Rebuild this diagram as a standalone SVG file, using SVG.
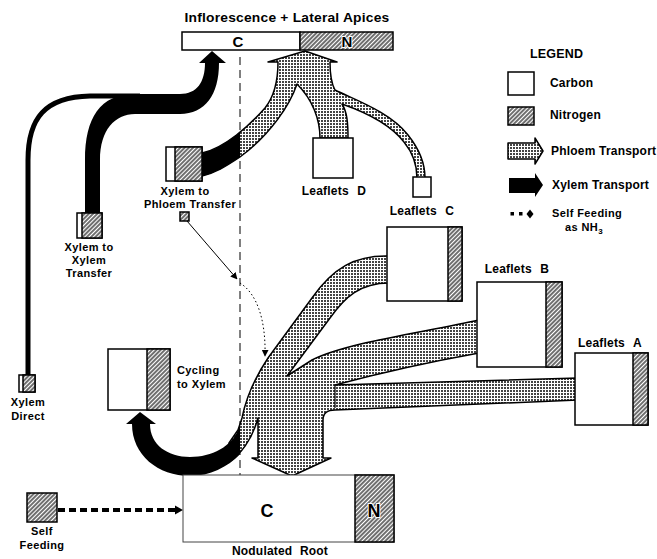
<svg xmlns="http://www.w3.org/2000/svg" width="657" height="559" viewBox="0 0 657 559">
<style>
.t{font-family:"Liberation Sans",Arial,sans-serif;font-weight:bold;font-size:12px;letter-spacing:0.2px;fill:#000}
.m{text-anchor:middle}
.st{font-size:11px;letter-spacing:0.4px}
.big{font-size:15px}
.huge{font-size:18px}
.sub{font-size:8px}
.leg{font-size:12.5px}
.nl{stroke:#fff;stroke-width:2;paint-order:stroke}
.box{fill:#fff;stroke:#000;stroke-width:1.5}
.hat{fill:url(#hatch);stroke:#000;stroke-width:1.5}
.phl{fill:url(#stip);stroke:#000;stroke-width:1.5;stroke-linejoin:round}
.xyl{fill:#000}
.ln{fill:none;stroke:#000;stroke-width:1}
</style>
<defs>
<pattern id="stip" width="3" height="3" patternUnits="userSpaceOnUse">
<rect width="3" height="3" fill="#fff"/>
<rect width="2" height="2" fill="#444"/>
</pattern>
<pattern id="hatch" width="3" height="3" patternUnits="userSpaceOnUse" patternTransform="rotate(45)">
<rect width="3" height="3" fill="#fff"/>
<line x1="1" y1="0" x2="1" y2="3" stroke="#222" stroke-width="1.3"/>
</pattern>
<clipPath id="leftOf240"><rect x="0" y="0" width="240" height="559"/></clipPath>
<marker id="ah" viewBox="0 0 10 10" refX="9" refY="5" markerWidth="7" markerHeight="7" orient="auto"><path d="M0 0 L10 5 L0 10 z" fill="#000"/></marker>
</defs>
<rect width="657" height="559" fill="#fff"/>

<g id="connectors">
<line x1="240" y1="57" x2="240" y2="475" stroke="#000" stroke-width="1" stroke-dasharray="8 5"/>
<!-- top phloem union -->
<path class="phl" d="M305 51 L337 62 L330 62 C330 75 331 83 335 90 C355 100 390 112 408 135 C420 150 425 163 425 178 L417 178 C417 165 413 153 404 142 C390 124 365 112 342 104 C347 112 348 122 348 138 L320 138 C320 120 313 100 297 84 C290 105 270 135 240 157 C225 167 215 173 202 176 L202 153 C225 148 250 125 265 108 C273 98 278 85 278 62 L268 62 Z"/>
<!-- xylem part of xylem-to-phloem transfer -->
<path class="xyl" clip-path="url(#leftOf240)" d="M202 153 C225 148 250 125 265 108 L260 160 L240 157 C225 167 215 173 202 176 Z"/>
<!-- xylem thick band -->
<path class="xyl" d="M85 213 L85 160 C85 118 100 94 135 94 L180 94 C197 94 205 82 205 63 L199 63 L212 51 L226 63 L219 63 C219 95 205 114 180 114 L135 114 C115 114 100 130 100 160 L100 213 Z"/>
<!-- xylem direct -->
<path d="M28 375 L28 160 C28 118 45 97 90 96 L140 96" fill="none" stroke="#000" stroke-width="5"/>
<!-- bottom phloem union -->
<path class="phl" d="M292 476 L331 458 L323 458 L323 420 Q323 410 335 410 L578 400 L578 378 L335 385 C380 373 440 360 479 353 L479 320 C420 333 345 343 312 360 L287 376 L330 318 C345 297 360 283 389 283 L389 256 C355 255 333 268 312 298 L268 358 C256 376 246 398 242 418 L238 430 L229 443 L229 462 C240 455 252 440 258 418 L258 458 L252 458 Z"/>
<line x1="335" y1="385" x2="335" y2="408" stroke="#000" stroke-width="1.2"/>
<!-- cycling black band -->
<path class="xyl" clip-path="url(#leftOf240)" d="M126 424 L140 412 L156 424 L150 424 C150 445 168 457 190 457 C212 457 232 446 238 430 L250 400 L262 420 C250 450 225 476 190 476 C158 476 132 455 132 424 Z"/>
<!-- xylem-to-phloem small pointer -->
<line class="ln" x1="187" y1="221" x2="237" y2="279" marker-end="url(#ah)"/>
<path class="ln" d="M240 283 C256 293 266 318 265 356" stroke-dasharray="1.5 2.5" marker-end="url(#ah)"/>
<!-- self feeding -->
<line x1="58" y1="510" x2="176" y2="510" stroke="#000" stroke-width="4" stroke-dasharray="7 4"/>
<polygon points="175,505.5 183,510 175,514.5" fill="#000"/>
</g>

<text class="t m" x="287" y="22" style="font-size:13px" textLength="205" lengthAdjust="spacingAndGlyphs">Inflorescence + Lateral Apices</text>

<g id="inflorescence">
<rect class="box" x="182" y="32" width="118" height="18"/>
<rect class="hat" x="300" y="32" width="93" height="18"/>
<text class="t m big" x="238" y="47">C</text>
<text class="t m big nl" x="347" y="47">N</text>
</g>

<g id="legend">
<text class="t leg" x="530" y="58">LEGEND</text>
<rect class="box" x="508" y="72" width="26" height="23"/>
<text class="t" x="550" y="87">Carbon</text>
<rect class="hat" x="508" y="107" width="26" height="18"/>
<text class="t" x="550" y="119">Nitrogen</text>
<polygon class="phl" points="508,143 535,143 535,138 543,151 535,164 535,159 508,159"/>
<text class="t" x="551" y="155">Phloem Transport</text>
<polygon class="xyl" points="509,178 535,178 535,173 543,185 535,197 535,193 509,193"/>
<text class="t" x="552" y="189">Xylem Transport</text>
<rect x="510.5" y="212" width="3.5" height="3.5" fill="#000"/>
<rect x="519" y="212" width="3.5" height="3.5" fill="#000"/>
<polygon points="530,209.5 533.5,214 530,218.5 526.5,214" fill="#000"/>
<text class="t st" x="552" y="217">Self Feeding</text>
<text class="t st" x="565" y="231">as NH<tspan class="sub" dy="3">3</tspan></text>
</g>

<g id="xylem-to-phloem">
<rect class="box" x="166" y="147" width="36" height="34"/>
<rect class="hat" x="175" y="147" width="27" height="34"/>
<text class="t m st" x="185" y="195">Xylem to</text>
<text class="t m st" x="190" y="208">Phloem Transfer</text>
<rect class="hat" x="180" y="212" width="9" height="9" stroke-width="1"/>
</g>

<g id="xylem-to-xylem">
<rect class="box" x="77" y="213" width="25" height="25"/>
<rect class="hat" x="82" y="213" width="20" height="25"/>
<text class="t m st" x="89" y="251">Xylem to</text>
<text class="t m st" x="89" y="264">Xylem</text>
<text class="t m st" x="89" y="277">Transfer</text>
</g>

<g id="xylem-direct">
<rect class="box" x="19" y="375" width="16" height="17"/>
<rect class="hat" x="23" y="375" width="12" height="17"/>
<text class="t m st" x="28" y="406">Xylem</text>
<text class="t m st" x="28" y="420">Direct</text>
</g>

<g id="leaflets-d">
<rect class="box" x="313" y="138" width="40" height="40"/>
<text class="t m" x="334" y="195" word-spacing="5">Leaflets D</text>
</g>

<g id="leaflets-small">
<rect class="box" x="413" y="177" width="18" height="20"/>
</g>

<g id="leaflets-c">
<rect class="box" x="387" y="227" width="75" height="74"/>
<rect class="hat" x="448" y="227" width="14" height="74"/>
<text class="t m" x="422" y="215" word-spacing="5">Leaflets C</text>
</g>

<g id="leaflets-b">
<rect class="box" x="477" y="282" width="85" height="85"/>
<rect class="hat" x="546" y="282" width="16" height="85"/>
<text class="t m" x="517" y="273" word-spacing="5">Leaflets B</text>
</g>

<g id="leaflets-a">
<rect class="box" x="575" y="353" width="73" height="72"/>
<rect class="hat" x="633" y="353" width="15" height="72"/>
<text class="t m" x="610" y="347" word-spacing="5">Leaflets A</text>
</g>

<g id="cycling">
<rect class="box" x="108" y="349" width="62" height="61"/>
<rect class="hat" x="147" y="349" width="23" height="61"/>
<text class="t st" x="177" y="374">Cycling</text>
<text class="t st" x="177" y="388">to Xylem</text>
</g>

<g id="root">
<rect x="183" y="475" width="211" height="67" fill="#fff" stroke="#444" stroke-width="1"/>
<rect class="hat" x="355" y="475" width="39" height="67"/>
<text class="t m huge" x="267" y="517">C</text>
<text class="t m huge nl" x="374" y="517">N</text>
<text class="t m" x="280" y="555" word-spacing="4">Nodulated Root</text>
</g>

<g id="self-feeding">
<rect class="hat" x="27" y="493" width="30" height="29"/>
<text class="t m st" x="42" y="535">Self</text>
<text class="t m st" x="42" y="549">Feeding</text>
</g>
</svg>
